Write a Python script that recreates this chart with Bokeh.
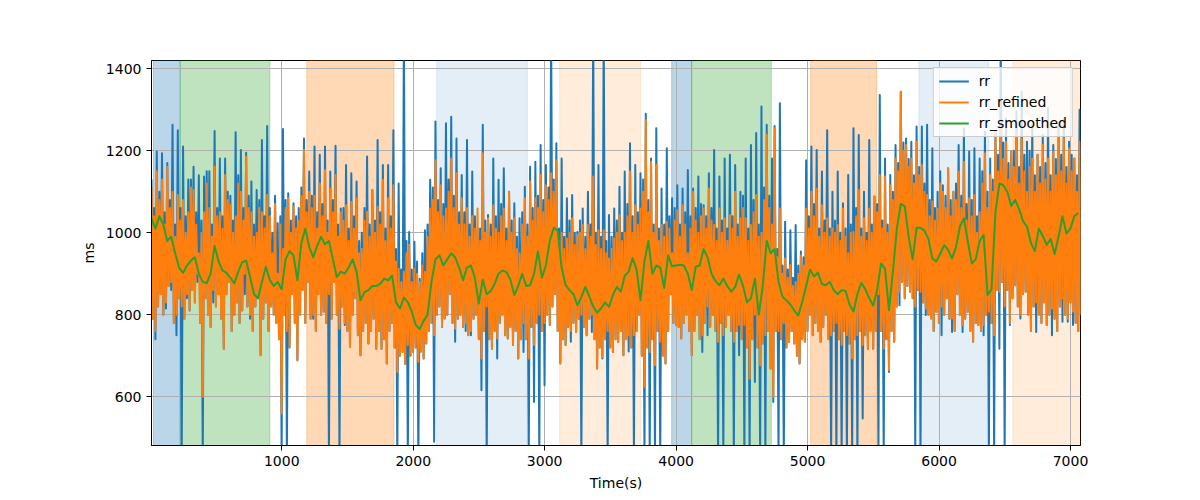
import numpy as np
from bokeh.plotting import figure
from bokeh.models import (ColumnDataSource, Range1d, BoxAnnotation, Legend, LegendItem,
                          FixedTicker)
from bokeh.embed import file_html
from bokeh.resources import INLINE

# ---- data ----
T_RR_START = 9
T_RR_STEP = 10
T_SM_START = 9
T_SM_STEP = 30

rr = [
    1130, 790, 1060, 740, 1198, 820, 1100, 850, 1194, 800, 1050, 815, 1170, 870, 1080, 860, 1263, 780, 1020, 750,
    1250, 840, 1060, 450, 1210, 790, 1040, 840, 1130, 810, 1130, 860, 1161, 830, 1050, 880, 1140, 780, 1030, 450,
    1137, 840, 1150, 800, 1150, 770, 1020, 830, 1248, 820, 1060, 850, 1181, 790, 1040, 717, 1181, 850, 1100, 880,
    1090, 760, 1030, 800, 1245, 830, 1140, 780, 1202, 810, 1060, 850, 1195, 820, 1090, 790, 1125, 760, 1020, 820,
    1104, 840, 1080, 701, 1226, 790, 1040, 830, 1260, 760, 1060, 820, 1000, 800, 1090, 780, 1023, 740, 1040, 450,
    1253, 800, 1080, 450, 1096, 720, 1030, 850, 1072, 780, 1040, 689, 1060, 800, 1110, 860, 1230, 780, 1080, 880,
    1149, 790, 1090, 790, 1210, 760, 1050, 850, 1190, 800, 1070, 807, 1210, 780, 1030, 450, 1149, 790, 1080, 880,
    1212, 800, 1020, 450, 1059, 820, 1060, 775, 1165, 760, 1010, 722, 1145, 800, 1040, 840, 1125, 750, 980, 701,
    1000, 760, 1060, 780, 1186, 730, 1020, 760, 1104, 790, 1030, 717, 1226, 760, 1050, 717, 1165, 740, 1010, 681,
    1165, 760, 1040, 780, 1250, 720, 960, 450, 1120, 700, 910, 709, 1500, 680, 980, 450, 1002, 700, 910, 709,
    978, 720, 930, 450, 888, 710, 950, 693, 1006, 730, 1020, 760, 1129, 780, 1110, 490, 1271, 800, 1080, 820,
    1157, 770, 1070, 791, 1267, 800, 1130, 850, 1283, 780, 1090, 734, 1230, 790, 1050, 800,
    1141, 770, 1050, 760, 1226, 750, 1020, 750, 1149, 790, 1040, 800, 1010, 740, 1010, 616, 1263, 760, 1030, 450,
    1043, 740, 1020, 717, 1181, 760, 1040, 693, 1129, 780, 1070, 800, 1157, 750, 1010, 742, 1100, 770, 1030, 726,
    1072, 760, 990, 693, 1035, 740, 1050, 709, 1112, 740, 1020, 450, 1161, 770, 1060, 587, 1173, 780, 1090, 450,
    1214, 760, 1080, 628, 1165, 800, 1110, 775, 1500, 820, 1130, 850, 1218, 760, 1010, 681, 1181, 740, 990, 726,
    1084, 770, 1030, 734, 1092, 780, 1000, 758, 1002, 790, 1030, 450, 1059, 770, 990, 750, 1100, 790, 1020, 758,
    1500, 740, 1000, 669, 1165, 720, 990, 693, 1500, 740, 980, 450, 1043, 720, 990, 709, 1059, 740,
    1030, 734, 1112, 760, 1000, 701, 1149, 740, 1070, 710, 1218, 720, 1040, 450, 1165, 760, 1050, 800, 1145, 700,
    1130, 450, 1290, 720, 1080, 450, 1181, 740, 1020, 450, 1255, 760, 1010, 450, 1108, 700, 1020, 681, 1206, 760,
    1040, 850, 1084, 780, 1060, 775, 1116, 770, 1020, 742, 1108, 780, 1050, 800, 1153, 760, 1040, 701, 1108, 760,
    1060, 800, 1137, 740, 1070, 709, 1067, 780, 1040, 750, 1145, 770, 1060, 800, 1202, 760, 1010, 450, 1137, 780,
    1030, 450, 1181, 770, 1010, 800, 1190, 760, 1040, 450, 1165, 760, 1020, 701, 1100, 740, 1090, 450, 1181, 720,
    1010, 450, 1214, 740, 1080, 636, 1243, 720, 1020, 450, 1308, 730, 1110, 450, 1263, 760, 1090, 669,
    1181, 587, 1260, 760, 960, 450, 1316, 740, 920, 450, 1027, 720, 910, 734, 1006, 760, 890, 730, 1019, 700,
    920, 681, 954, 740, 940, 734, 1177, 760, 1040, 800, 1210, 750, 1070, 780, 1202, 760, 1010, 734, 1149, 770,
    1030, 800, 1250, 740, 1010, 450, 1100, 760, 1030, 450, 1149, 740, 1000, 450, 1072, 760, 1010, 450, 1141, 730,
    1020, 450, 1255, 740, 1060, 450, 1238, 760, 1010, 547, 1100, 750, 1000, 717, 1226, 760, 1020, 717, 1088, 760,
    1070, 450, 1336, 760, 1030, 450, 1181, 740, 1020, 660, 1141, 760, 1100, 734, 1214, 820, 1170, 823, 1344, 880,
    1220, 840, 1230, 870, 1180, 856, 1222, 840, 1140, 450, 1259, 860, 1160, 450, 1259, 830, 1120, 799,
    1263, 800, 1080, 791, 1206, 760, 1060, 807, 1100, 780, 1150, 750, 1116, 800, 1090, 840, 1157, 790, 1080, 758,
    1100, 760, 1120, 850, 1214, 800, 1090, 758, 1255, 790, 1070, 807, 1198, 760, 1080, 734, 1206, 780, 1040, 775,
    1181, 760, 1150, 750, 1247, 800, 1100, 450, 1181, 780, 1130, 450, 1247, 860, 1190, 717, 1500, 880, 1220, 450,
    1279, 860, 1170, 775, 1198, 840, 1200, 872, 1296, 820, 1160, 791, 1344, 850, 1190, 856, 1222, 800, 1200, 760,
    1263, 820, 1140, 758, 1190, 800, 1160, 780, 1238, 830, 1170, 775, 1304, 800, 1140, 750, 1214, 790, 1180, 760,
    1263, 820, 1190, 783, 1279, 800, 1160, 783, 1222, 830, 1190, 775, 1181, 780, 1140, 760, 1300, 800,
]

rr_refined = [
    1110, 790, 1040, 760, 1150, 820, 1080, 850, 1130, 800, 1020, 830, 1161, 870, 1060, 880, 1100, 780, 990, 800,
    1092, 840, 1030, 820, 1080, 790, 1000, 850, 1050, 810, 1110, 860, 1104, 830, 1020, 900, 950, 780, 1000, 600,
    1050, 840, 1120, 800, 1060, 770, 990, 860, 1161, 820, 1040, 850, 1050, 790, 1010, 717, 1141, 850, 1080, 880,
    1068, 760, 1000, 800, 1040, 830, 1120, 780, 1100, 810, 1030, 900, 1185, 820, 1060, 800, 1050, 760, 990, 820,
    1000, 840, 1060, 701, 1050, 790, 1010, 830, 1092, 760, 1040, 820, 950, 800, 1070, 780, 900, 740, 1020, 559,
    960, 800, 1060, 760, 1084, 720, 1000, 850, 1063, 780, 1010, 689, 1030, 800, 1090, 860, 1202, 780, 1050, 880,
    1100, 790, 1060, 800, 1090, 760, 1010, 850, 1120, 800, 1040, 807, 1153, 780, 1000, 850, 1108, 790, 1050, 880,
    1141, 800, 990, 766, 1050, 820, 1030, 780, 1067, 760, 980, 722, 1075, 800, 1010, 840, 1084, 750, 950, 701,
    960, 760, 1030, 780, 1051, 730, 990, 760, 1104, 790, 1000, 717, 1063, 760, 1020, 717, 1129, 740, 980, 681,
    1084, 760, 1010, 780, 1116, 720, 930, 660, 912, 700, 880, 709, 905, 680, 950, 726, 970, 700, 880, 709,
    912, 720, 900, 685, 880, 710, 920, 693, 905, 730, 990, 760, 1059, 780, 1080, 750, 1177, 800, 1050, 820,
    1116, 770, 1040, 791, 1059, 800, 1100, 850, 1181, 780, 1060, 766, 1145, 790, 1020, 800,
    1084, 770, 1020, 780, 1060, 750, 990, 760, 1040, 790, 1010, 800, 1059, 740, 980, 693, 1194, 760, 1000, 820,
    1035, 740, 990, 717, 1067, 760, 1010, 742, 1000, 780, 1040, 800, 1059, 750, 980, 742, 1100, 770, 1000, 726,
    1035, 760, 960, 693, 950, 740, 1020, 780, 1084, 740, 990, 693, 1125, 770, 1030, 726, 1084, 780, 1060, 800,
    1141, 760, 1050, 780, 1116, 800, 1080, 775, 1145, 820, 1100, 850, 1177, 760, 980, 681, 1000, 740, 960, 726,
    986, 770, 1000, 760, 1035, 780, 970, 758, 994, 790, 1000, 800, 1019, 770, 960, 750, 1019, 790, 990, 800,
    1137, 740, 970, 669, 1006, 720, 960, 697, 1006, 740, 950, 760, 937, 720, 960, 709, 986, 740,
    1000, 734, 1043, 760, 980, 701, 1000, 740, 1040, 750, 1149, 720, 1000, 750, 1067, 760, 1020, 800, 1059, 700,
    1100, 624, 1275, 720, 1050, 709, 1173, 740, 1000, 677, 1165, 760, 980, 734, 1019, 700, 990, 681, 1027, 760,
    1010, 850, 950, 780, 1030, 775, 1055, 770, 990, 742, 1067, 780, 1020, 800, 950, 760, 1010, 701, 1100, 760,
    1030, 800, 1000, 740, 1040, 750, 1059, 780, 1010, 820, 1108, 770, 1030, 800, 1019, 760, 980, 734, 1059, 780,
    1000, 750, 1035, 770, 980, 800, 1043, 760, 1010, 734, 1100, 760, 990, 775, 1035, 740, 1060, 775, 1035, 720,
    980, 644, 1019, 740, 1050, 800, 1092, 720, 990, 677, 1000, 730, 1080, 750, 1239, 760, 1060, 669,
    1020, 600, 1255, 760, 940, 760, 1059, 740, 900, 780, 937, 720, 890, 734, 921, 760, 870, 730, 880, 700,
    900, 681, 945, 740, 920, 734, 1059, 760, 1010, 800, 1100, 750, 1040, 780, 1108, 760, 990, 734, 1067, 770,
    1000, 800, 1035, 740, 990, 750, 1010, 760, 1000, 780, 1019, 740, 980, 726, 1059, 760, 990, 750, 950, 730,
    1000, 693, 1002, 740, 1040, 750, 1104, 760, 990, 726, 1035, 750, 980, 717, 1059, 760, 1000, 717, 1088, 760,
    1050, 850, 1141, 760, 1010, 717, 1137, 740, 1000, 665, 1116, 760, 1080, 734, 1181, 820, 1150, 856, 1344, 880,
    1200, 840, 1214, 870, 1160, 856, 1181, 840, 1120, 820, 1222, 860, 1140, 856, 1165, 830, 1100, 815,
    1092, 800, 1040, 791, 1076, 760, 1030, 807, 1059, 780, 1120, 820, 1100, 800, 1060, 840, 1157, 790, 1040, 791,
    1100, 760, 1080, 850, 1149, 800, 1060, 775, 1173, 790, 1030, 807, 1084, 760, 1040, 734, 1092, 780, 1000, 775,
    1050, 760, 1120, 775, 1194, 800, 1060, 807, 1141, 780, 1100, 750, 1247, 860, 1150, 856, 1255, 880, 1180, 820,
    1222, 860, 1130, 780, 1198, 840, 1160, 872, 1247, 820, 1120, 800, 1230, 850, 1150, 856, 1100, 800, 1160, 760,
    1181, 820, 1100, 830, 1190, 800, 1120, 780, 1214, 830, 1130, 775, 1181, 800, 1100, 815, 1198, 790, 1140, 760,
    1247, 820, 1150, 840, 1230, 800, 1120, 790, 1206, 830, 1150, 807, 1181, 780, 1100, 760, 1222, 800,
]

rr_smoothed = [
    1035, 1010, 1040, 1020, 980, 990, 950, 915, 902, 920,
    932, 940, 900, 880, 877, 900, 968, 930, 908, 902,
    890, 876, 905, 928, 932, 892, 850, 840, 880, 917,
    885, 870, 880, 862, 935, 955, 945, 884, 975, 1010,
    965, 940, 968, 990, 972, 980, 935, 892, 905, 900,
    915, 935, 905, 835, 855, 860, 870, 870, 875, 888,
    884, 895, 830, 815, 842, 830, 808, 775, 765, 785,
    800, 880, 935, 945, 920, 935, 950, 940, 915,
    884, 915, 920, 890, 827, 885, 850, 858, 875, 900,
    908, 904, 886, 848, 870, 900, 870, 872, 900, 955,
    890, 920, 980, 1012, 1005, 915, 872, 860, 850, 823,
    843, 868, 845, 820, 805, 815, 830, 819, 848,
    868, 856, 895, 905, 938, 910, 835, 930, 980, 900,
    920, 915, 865, 945, 918, 920, 922, 920, 900, 860,
    917, 920, 960, 940, 900, 882, 872, 888, 870, 856,
    868, 898, 870, 830, 840, 888, 800, 870, 980, 950,
    960, 880, 844, 835, 825, 810, 798, 831, 870, 910,
    893, 903, 875, 872, 880, 860, 850, 860, 858, 825,
    808, 850, 878, 862, 840, 822, 860, 925, 912, 811,
    905, 1010, 1070, 1065, 990, 935, 1012, 1012, 1005,
    985, 937, 930, 948, 970, 958, 937, 965, 1015, 1035,
    978, 925, 935, 980, 994, 848, 862, 1050, 1120, 1116,
    1100, 1065, 1080, 1058, 1028, 1015, 975, 955, 1010, 992,
    970, 985, 948, 990, 1040, 998, 1010, 1040, 1048,
]

# shaded activity spans: start, end (s)
span_start = [24, 227, 1190, 2179, 3114, 3966, 4118, 5023, 5847, 6561]
span_end = [227, 909, 1854, 2868, 3730, 4118, 4724, 5525, 6379, 7100]
span_color = ["#1f77b4", "#2ca02c", "#ff7f0e", "#1f77b4", "#ff7f0e",
              "#1f77b4", "#2ca02c", "#ff7f0e", "#1f77b4", "#ff7f0e"]
span_alpha = [0.3, 0.3, 0.3, 0.12, 0.15, 0.3, 0.3, 0.3, 0.12, 0.15]

x_ticks = [1000, 2000, 3000, 4000, 5000, 6000, 7000]
y_ticks = [600, 800, 1000, 1200, 1400]
X_RANGE = (9, 7076)
Y_RANGE = (481, 1420)

t_rr = T_RR_START + T_RR_STEP * np.arange(len(rr))
t_ref = T_RR_START + T_RR_STEP * np.arange(len(rr_refined))
t_sm = T_SM_START + T_SM_STEP * np.arange(len(rr_smoothed))

FONT = "DejaVu Sans"

p = figure(frame_width=929, frame_height=385,
           min_border_left=151, min_border_right=120,
           min_border_top=60, min_border_bottom=55,
           x_range=Range1d(*X_RANGE), y_range=Range1d(*Y_RANGE),
           output_backend="svg", toolbar_location=None,
           background_fill_color="white", border_fill_color="white")

for s, e, c, a in zip(span_start, span_end, span_color, span_alpha):
    p.add_layout(BoxAnnotation(left=s, right=e, fill_color=c, fill_alpha=a,
                               line_color=c, line_alpha=a, line_width=1,
                               level="image"))

src_rr = ColumnDataSource(dict(t=t_rr, v=rr))
src_ref = ColumnDataSource(dict(t=t_ref, v=rr_refined))
src_sm = ColumnDataSource(dict(t=t_sm, v=rr_smoothed))

r1 = p.line("t", "v", source=src_rr, line_color="#1f77b4", line_width=2, line_join="round")
r2 = p.line("t", "v", source=src_ref, line_color="#ff7f0e", line_width=2, line_join="round")
r3 = p.line("t", "v", source=src_sm, line_color="#2ca02c", line_width=2, line_join="round")

p.grid.grid_line_color = "#b0b0b0"
p.grid.grid_line_width = 1
p.xaxis.ticker = FixedTicker(ticks=x_ticks)
p.yaxis.ticker = FixedTicker(ticks=y_ticks)

for ax in (p.xaxis, p.yaxis):
    ax.axis_line_color = "black"
    ax.major_tick_line_color = "black"
    ax.major_tick_out = 5
    ax.major_tick_in = 0
    ax.minor_tick_line_color = None
    ax.major_label_text_font = FONT
    ax.major_label_text_font_size = "14px"
    ax.major_label_text_color = "black"
    ax.major_label_standoff = 5
    ax.axis_label_text_font = FONT
    ax.axis_label_text_font_size = "14px"
    ax.axis_label_text_font_style = "normal"
    ax.axis_label_text_color = "black"
    ax.axis_label_standoff = 6

p.xaxis.axis_label = "Time(s)"
p.yaxis.axis_label = "ms"

p.outline_line_color = "black"
p.outline_line_width = 1
p.outline_line_alpha = 1

legend = Legend(items=[LegendItem(label="rr", renderers=[r1]),
                       LegendItem(label="rr_refined", renderers=[r2]),
                       LegendItem(label="rr_smoothed", renderers=[r3])],
                location="top_right")
legend.label_text_font = FONT
legend.label_text_font_size = "14px"
legend.label_text_color = "black"
legend.glyph_width = 30
legend.glyph_height = 16
legend.label_height = 16
legend.spacing = 5
legend.padding = 5
legend.margin = 7
legend.label_standoff = 10
legend.border_line_color = "#cccccc"
legend.border_line_alpha = 1
legend.background_fill_color = "white"
legend.background_fill_alpha = 0.8
p.add_layout(legend)

open("out.html", "w").write(file_html(p, INLINE))
